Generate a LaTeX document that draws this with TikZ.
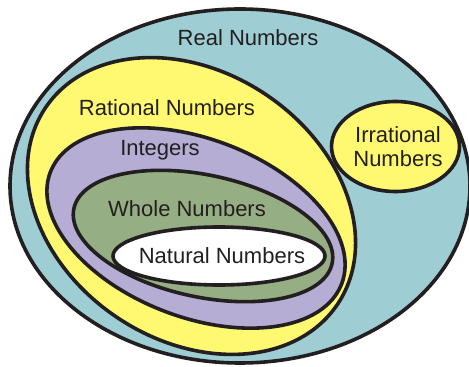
\documentclass[tikz,border=0pt]{standalone}
\usepackage{fontspec}
\setmainfont{Liberation Sans}
\definecolor{realc}{HTML}{9ECED4}
\definecolor{ratc}{HTML}{FFF972}
\definecolor{intc}{HTML}{B5ADD3}
\definecolor{wholec}{HTML}{96AE83}
\definecolor{txtc}{HTML}{231F20}
\tikzset{
  setshape/.style={draw=txtc, line width=3.6pt},
  lbl/.style={text=txtc, font=\fontsize{22}{24}\selectfont, inner sep=0pt, align=center}
}
\begin{document}
\begin{tikzpicture}[x=1pt,y=1pt]
\useasboundingbox (0,0) rectangle (469,367);
\clip (0,0) rectangle (469,367);
\draw[setshape, fill=realc] (240,181) ellipse [x radius=230, y radius=177];
\draw[setshape, fill=ratc] (191.5,161) ellipse [x radius=176, y radius=134, rotate=-34];
\draw[setshape, fill=intc] (196,139) ellipse [x radius=156, y radius=89, rotate=-21];
\draw[setshape, fill=wholec] (203,131) ellipse [x radius=132, y radius=61, rotate=-12];
\draw[setshape, fill=white] (219,111) ellipse [x radius=106, y radius=29];
\draw[setshape, fill=ratc] (395.5,220.5) ellipse [x radius=64, y radius=45];
\node[lbl] (real) at (248,329) {Real Numbers};
\node[lbl] (rational) at (167,259) {Rational Numbers};
\node[lbl] (integers) at (160,217) {Integers};
\node[lbl] (whole) at (187,158) {Whole Numbers};
\node[lbl] (natural) at (222,111) {Natural Numbers};
\node[lbl] (irrational) at (398,220) {Irrational\\Numbers};
\end{tikzpicture}
\end{document}
